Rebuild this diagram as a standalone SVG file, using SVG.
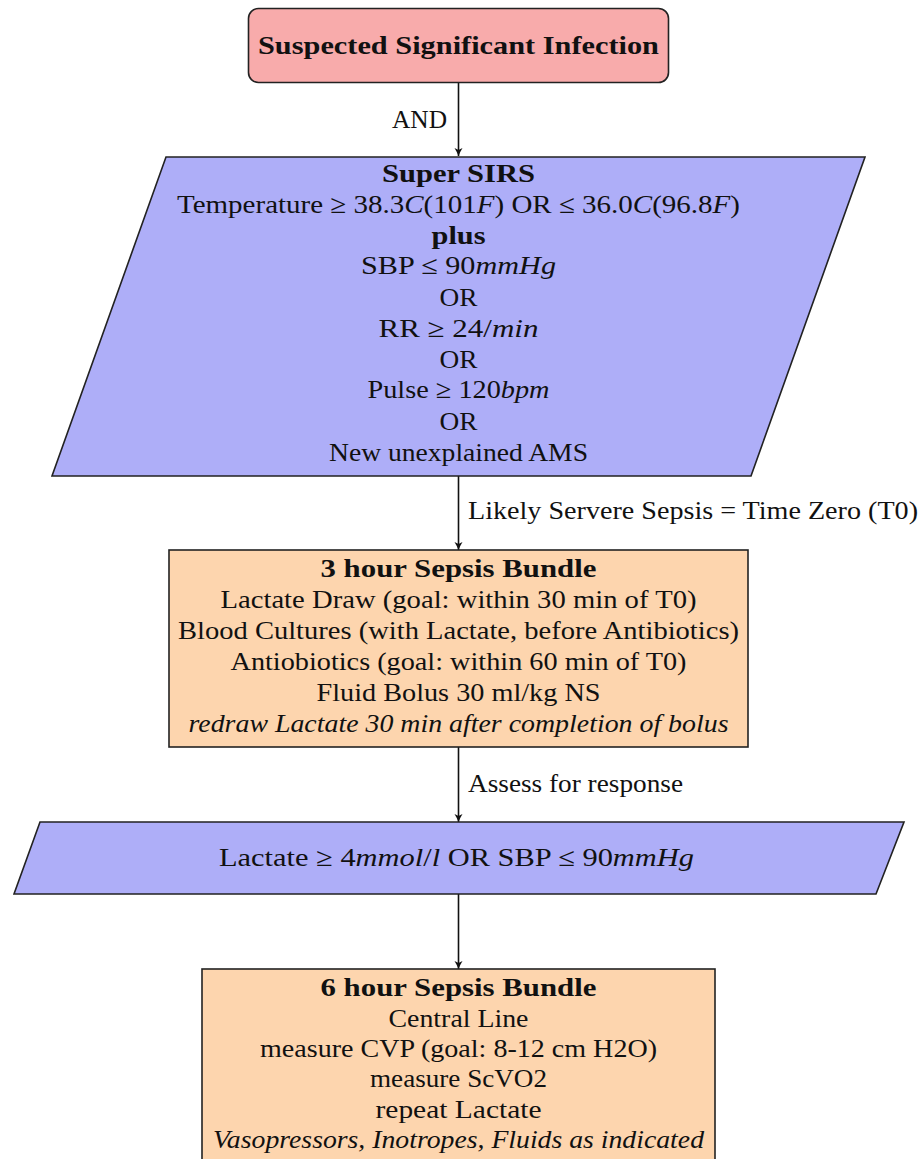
<svg xmlns="http://www.w3.org/2000/svg" width="922" height="1159" viewBox="0 0 922 1159">
<style>
.t{font-family:"Liberation Serif","Times New Roman",serif;font-size:26px;fill:#111;text-anchor:middle}
.b{font-weight:bold}
.i{font-style:italic}
.lbl{font-family:"Liberation Serif","Times New Roman",serif;font-size:26px;fill:#111}
.pink{fill:#f8abab;stroke:#222;stroke-width:1.6}
.blue{fill:#aeaef8;stroke:#222;stroke-width:1.6}
.orange{fill:#fdd5ae;stroke:#222;stroke-width:1.6}
.edge{stroke:#111;stroke-width:1.6;fill:none;marker-end:url(#arr)}
</style>
<defs>
<marker id="arr" markerUnits="userSpaceOnUse" markerWidth="12" markerHeight="12" refX="10" refY="6" orient="auto">
<path d="M2,2 Q6,4.5 10,6 Q6,7.5 2,10 L4,6 Z" fill="#111"/>
</marker>
</defs>
<rect width="922" height="1159" fill="#fff"/>
<g id="connectors">
<path class="edge" d="M458.5,82 V156"/>
<path class="edge" d="M458.5,476 V550"/>
<path class="edge" d="M458.5,747 V822"/>
<path class="edge" d="M458.5,894 V969"/>
<text class="lbl" x="447" y="128" text-anchor="end" textLength="55" lengthAdjust="spacingAndGlyphs">AND</text>
<text class="lbl" x="468" y="519" textLength="450" lengthAdjust="spacingAndGlyphs">Likely Servere Sepsis = Time Zero (T0)</text>
<text class="lbl" x="468" y="792" textLength="215" lengthAdjust="spacingAndGlyphs">Assess for response</text>
</g>
<g id="n1">
<rect class="pink" x="248.5" y="8.5" width="420" height="74" rx="10"/>
<text class="t b" x="458.5" y="54" textLength="401" lengthAdjust="spacingAndGlyphs">Suspected Significant Infection</text>
</g>
<g id="n2">
<polygon class="blue" points="166,157 865,157 751,476 52,476"/>
<text class="t b" x="458.5" y="182" textLength="153" lengthAdjust="spacingAndGlyphs">Super SIRS</text>
<text class="t" x="458.5" y="213" textLength="563" lengthAdjust="spacingAndGlyphs">Temperature ≥ 38.3<tspan class="i">C</tspan>(101<tspan class="i">F</tspan>) OR ≤ 36.0<tspan class="i">C</tspan>(96.8<tspan class="i">F</tspan>)</text>
<text class="t b" x="458.5" y="244" textLength="54" lengthAdjust="spacingAndGlyphs">plus</text>
<text class="t" x="458.5" y="274" textLength="195" lengthAdjust="spacingAndGlyphs">SBP ≤ 90<tspan class="i">mmHg</tspan></text>
<text class="t" x="458.5" y="306" textLength="38" lengthAdjust="spacingAndGlyphs">OR</text>
<text class="t" x="458.5" y="337" textLength="160" lengthAdjust="spacingAndGlyphs">RR ≥ 24/<tspan class="i">min</tspan></text>
<text class="t" x="458.5" y="368" textLength="38" lengthAdjust="spacingAndGlyphs">OR</text>
<text class="t" x="458.5" y="398" textLength="182" lengthAdjust="spacingAndGlyphs">Pulse ≥ 120<tspan class="i">bpm</tspan></text>
<text class="t" x="458.5" y="430" textLength="38" lengthAdjust="spacingAndGlyphs">OR</text>
<text class="t" x="458.5" y="461" textLength="259" lengthAdjust="spacingAndGlyphs">New unexplained AMS</text>
</g>
<g id="n3">
<rect class="orange" x="169" y="550" width="579" height="197"/>
<text class="t b" x="458.5" y="577" textLength="276" lengthAdjust="spacingAndGlyphs">3 hour Sepsis Bundle</text>
<text class="t" x="458.5" y="608" textLength="476" lengthAdjust="spacingAndGlyphs">Lactate Draw (goal: within 30 min of T0)</text>
<text class="t" x="458.5" y="639" textLength="561" lengthAdjust="spacingAndGlyphs">Blood Cultures (with Lactate, before Antibiotics)</text>
<text class="t" x="458.5" y="670" textLength="456" lengthAdjust="spacingAndGlyphs">Antiobiotics (goal: within 60 min of T0)</text>
<text class="t" x="458.5" y="701" textLength="284" lengthAdjust="spacingAndGlyphs">Fluid Bolus 30 ml/kg NS</text>
<text class="t i" x="458.5" y="732" textLength="540" lengthAdjust="spacingAndGlyphs">redraw Lactate 30 min after completion of bolus</text>
</g>
<g id="n4">
<polygon class="blue" points="40,822 904,822 876,894 14,894"/>
<text class="t" x="456.5" y="866" textLength="475" lengthAdjust="spacingAndGlyphs">Lactate ≥ 4<tspan class="i">mmol</tspan>/<tspan class="i">l</tspan> OR SBP ≤ 90<tspan class="i">mmHg</tspan></text>
</g>
<g id="n5">
<rect class="orange" x="202" y="969" width="513" height="210"/>
<text class="t b" x="458.5" y="996" textLength="276" lengthAdjust="spacingAndGlyphs">6 hour Sepsis Bundle</text>
<text class="t" x="458.5" y="1027" textLength="140" lengthAdjust="spacingAndGlyphs">Central Line</text>
<text class="t" x="458.5" y="1057" textLength="397" lengthAdjust="spacingAndGlyphs">measure CVP (goal: 8-12 cm H2O)</text>
<text class="t" x="458.5" y="1087" textLength="177" lengthAdjust="spacingAndGlyphs">measure ScVO2</text>
<text class="t" x="458.5" y="1118" textLength="166" lengthAdjust="spacingAndGlyphs">repeat Lactate</text>
<text class="t i" x="458.5" y="1148" textLength="491" lengthAdjust="spacingAndGlyphs">Vasopressors, Inotropes, Fluids as indicated</text>
</g>
</svg>
